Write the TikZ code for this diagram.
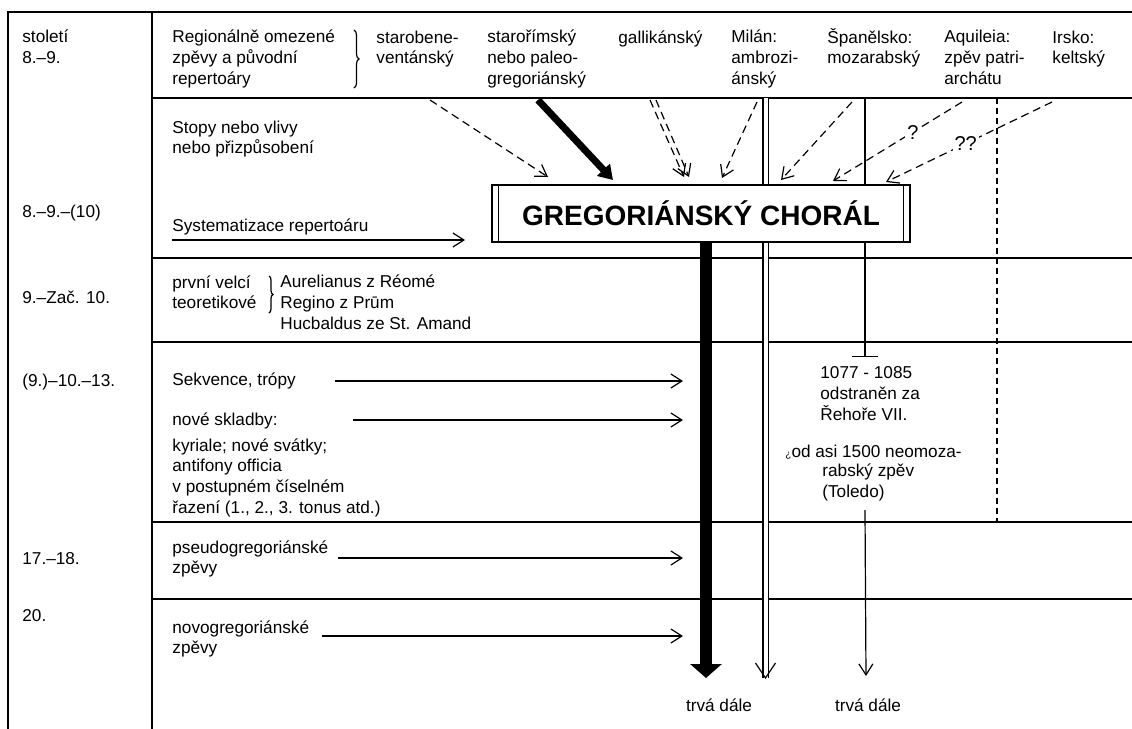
\documentclass[tikz,border=0pt]{standalone}
\usepackage{fontspec}
\setmainfont{Liberation Sans}
\usetikzlibrary{arrows.meta,decorations.pathreplacing}

\begin{document}
\begin{tikzpicture}[x=0.5pt, y=-0.5pt,
    lbl/.style={anchor=base west, align=left, inner sep=0pt, font=\fontsize{8.6}{10.3}\selectfont},
    lblc/.style={lbl, anchor=base},
    rule/.style={line width=0.6pt},
    flow/.style={line width=0.6pt, -{Straight Barb[length=5.5pt, width=7pt]}},
    infl/.style={flow, dash pattern=on 4pt off 2.5pt},
    heavy/.style={line width=3.5pt, -{Triangle[length=7pt, width=8.5pt]}},
    mainstem/.style={line width=6pt, -{Triangle[length=7pt, width=15.5pt]}}]
    \useasboundingbox (0, 0) rectangle (1132, 729);

    \draw[rule] (8, 729) -- (8, 12) -- (1132, 12);
    \draw[rule] (152, 12) -- (152, 729);
    \foreach \y in {98, 258, 342, 522, 599}
        \draw[rule] (152, \y) -- (1132, \y);

    \node[lbl] at (22, 42)(sto){století};
    \node[lbl] at (22, 63)(t1){8.–9.};
    \node[lbl] at (22, 217)(t2){8.–9.–(10)};
    \node[lbl] at (22, 303)(t3){9.–Zač. 10.};
    \node[lbl] at (22, 386)(t4){(9.)–10.–13.};
    \node[lbl] at (22, 564)(t5){17.–18.};
    \node[lbl] at (22, 621)(t6){20.};

    \node[lbl] at (172, 84)(reg){Regionálně omezené\\zpěvy a původní\\repertoáry};
    \draw[rule, decorate, decoration={brace, amplitude=2.5pt}] (354, 30) -- (354, 88);
    \node[lbl] at (376, 63.6)(benev){starobene-\\ventánský};
    \node[lbl] at (487, 84)(rim){starořímský\\nebo paleo-\\gregoriánský};
    \node[lbl] at (618, 43)(gall){gallikánský};
    \node[lbl] at (731, 84)(milan){Milán:\\ambrozi-\\ánský};
    \node[lbl] at (827, 63.6)(span){Španělsko:\\mozarabský};
    \node[lbl] at (944, 84)(aqui){Aquileia:\\zpěv patri-\\archátu};
    \node[lbl] at (1052, 63.6)(irsko){Irsko:\\keltský};

    \node[lbl] at (172, 153.6)(stopy){Stopy nebo vlivy\\nebo přizpůsobení};
    \node[lbl] at (172, 231)(syst){Systematizace repertoáru};

    \node[lbl] at (172, 308.6)(teor){první velcí\\teoretikové};
    \draw[rule, decorate, decoration={brace, amplitude=2pt}] (269, 276) -- (269, 313);
    \node[lbl] at (280, 329)(names){Aurelianus z Réomé\\Regino z Prūm\\Hucbaldus ze St. Amand};

    \node[lbl] at (172, 385)(sekv){Sekvence, trópy};
    \node[lbl] at (172, 425)(skl){nové skladby:};
    \node[lbl] at (172, 513)(kyr){kyriale; nové svátky;\\antifony officia\\v postupném číselném\\řazení (1., 2., 3. tonus atd.)};
    \node[lbl] at (820, 420)(odstr){1077 - 1085\\odstraněn za\\Řehoře VII.};
    \node[lbl] at (785, 457)(neo){{\tiny ¿}od asi 1500 neomoza-};
    \node[lbl] at (822, 497)(neo2){rabský zpěv\\(Toledo)};

    \node[lbl] at (172, 573.6)(pseudo){pseudogregoriánské\\zpěvy};
    \node[lbl] at (172, 653.6)(novo){novogregoriánské\\zpěvy};

    \coordinate (benev-s) at (430, 100);  \coordinate (benev-e) at (548, 177);
    \coordinate (rim-s) at (538, 100);    \coordinate (rim-e) at (613, 180);
    \coordinate (gall-s) at (650, 100);   \coordinate (gall-e) at (684, 177);
    \coordinate (gall-s2) at (656, 100);  \coordinate (gall-e2) at (689, 177);
    \coordinate (milan-s) at (757, 102);  \coordinate (milan-e) at (722, 178);
    \coordinate (span-s) at (852, 102);   \coordinate (span-e) at (781, 180);
    \coordinate (aqui-s) at (962, 102);   \coordinate (aqui-e) at (833, 181);
    \coordinate (irsko-s) at (1052, 102); \coordinate (irsko-e) at (886, 182);

    \path[infl]
        (benev-s)edge(benev-e)
        (gall-s)edge(gall-e)
        (gall-s2)edge(gall-e2)
        (milan-s)edge(milan-e)
        (span-s)edge(span-e)
        (aqui-s)edge node[pos=0.38, fill=white, inner sep=1pt]{?}(aqui-e)
        (irsko-s)edge node[pos=0.52, fill=white, inner sep=1pt]{??}(irsko-e);
    \draw[heavy] (rim-s) -- (rim-e);

    \coordinate (milan-top) at (765.5, 98);  \coordinate (milan-end) at (765.5, 678);
    \draw[rule, double, double distance=2pt] (milan-top) -- (milan-end);
    \draw[rule] ([xshift=-5pt, yshift=7.5pt]milan-end) -- (milan-end) -- ([xshift=5pt, yshift=7.5pt]milan-end);

    \coordinate (span-top) at (865, 98);  \coordinate (span-cut) at (865, 357);
    \coordinate (span-on) at (865, 510);  \coordinate (span-end) at (866, 676);
    \draw[rule, -{Bar[width=13pt]}] (span-top) -- (span-cut);
    \draw[flow] (span-on) -- (span-end);

    \coordinate (kelt-top) at (997, 98);  \coordinate (kelt-end) at (997, 522);
    \draw[rule, dash pattern=on 3pt off 2pt] (kelt-top) -- (kelt-end);

    \node[rule, draw, fill=white, minimum width=209pt, minimum height=28.5pt, inner sep=0pt,
        font=\fontsize{14}{16}\selectfont\bfseries] at (701, 213.5)(chorale){GREGORIÁNSKÝ CHORÁL};
    \draw[rule] ([xshift=3.5pt]chorale.north west) -- ([xshift=3.5pt]chorale.south west);
    \draw[rule] ([xshift=-3.5pt]chorale.north east) -- ([xshift=-3.5pt]chorale.south east);

    \coordinate (stem-end) at (706, 678);
    \draw[mainstem] (chorale.south -| stem-end) -- (stem-end);

    \coordinate (hit) at (683, 0);
    \coordinate (syst-s) at (172, 240);   \coordinate (syst-e) at (465, 240);
    \coordinate (sekv-s) at (335, 381);
    \coordinate (skl-s) at (353, 420);
    \coordinate (pseudo-s) at (338, 558);
    \coordinate (novo-s) at (322, 636);
    \path[flow]
        (syst-s)edge(syst-e)
        (sekv-s)edge(sekv-s -| hit)
        (skl-s)edge(skl-s -| hit)
        (pseudo-s)edge(pseudo-s -| hit)
        (novo-s)edge(novo-s -| hit);

    \node[lblc] at (719, 711)(keep1){trvá dále};
    \node[lblc] at (868, 711)(keep2){trvá dále};
\end{tikzpicture}
\end{document}
